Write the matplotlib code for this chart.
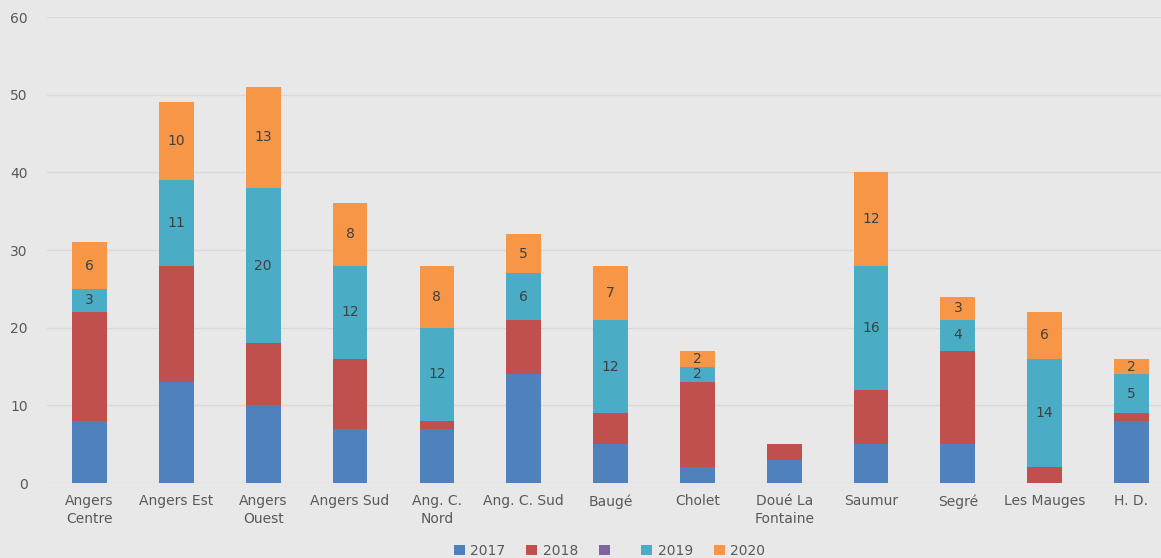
import matplotlib.pyplot as plt
import numpy as np

categories = ['Angers\nCentre', 'Angers Est', 'Angers\nOuest', 'Angers Sud', 'Ang. C.\nNord',
              'Ang. C. Sud', 'Baugé', 'Cholet', 'Doué La\nFontaine', 'Saumur', 'Segré',
              'Les Mauges', 'H. D.']
v2017 = [8, 13, 10, 7, 7, 14, 5, 2, 3, 5, 5, 0, 8]
v2018 = [14, 15, 8, 9, 1, 7, 4, 11, 2, 7, 12, 2, 1]
vblank = [0] * 13
v2019 = [3, 11, 20, 12, 12, 6, 12, 2, 0, 16, 4, 14, 5]
v2020 = [6, 10, 13, 8, 8, 5, 7, 2, 0, 12, 3, 6, 2]

series = [('2017', v2017, '#4F81BD', False),
          ('2018', v2018, '#C0504D', False),
          (' ', vblank, '#8064A2', False),
          ('2019', v2019, '#4BACC6', True),
          ('2020', v2020, '#F79646', True)]

bg = '#E8E8E8'
fig = plt.figure(figsize=(11.61, 5.58), dpi=100, facecolor=bg)
ax = fig.add_axes([0.0405, 0.1344, 0.9595, 0.8351], facecolor=bg)

x = np.arange(len(categories))
bottom = np.zeros(len(categories))
for name, vals, col, lab in series:
    vals = np.array(vals, dtype=float)
    bars = ax.bar(x, vals, 0.4, bottom=bottom, color=col, label=name, zorder=3)
    if lab:
        for b, v in zip(bars, vals):
            if v > 0:
                ax.text(b.get_x() + b.get_width() / 2, b.get_y() + v / 2, f'{int(v)}',
                        ha='center', va='center', fontsize=10, color='#404040', zorder=4)
    bottom += vals

ax.set_ylim(0, 60)
ax.set_yticks(range(0, 61, 10))
ax.set_xlim(-0.49, 12.34)
ax.set_xticks(x)
ax.set_xticklabels(categories, fontsize=10, color='#595959', linespacing=1.35)
ax.tick_params(axis='y', labelsize=10, labelcolor='#595959', length=0, pad=14)
ax.tick_params(axis='x', length=0, pad=8)
ax.yaxis.grid(True, color='#D9D9D9', linewidth=1, zorder=0)
for s in ax.spines.values():
    s.set_visible(False)

fig.legend(loc='lower center', bbox_to_anchor=(0.525, -0.022), ncol=5, frameon=False,
           fontsize=10, handlelength=0.8, handleheight=0.8, handletextpad=0.4,
           columnspacing=1.5, labelcolor='#595959')

fig.savefig('out.png', dpi=100, facecolor=bg)
